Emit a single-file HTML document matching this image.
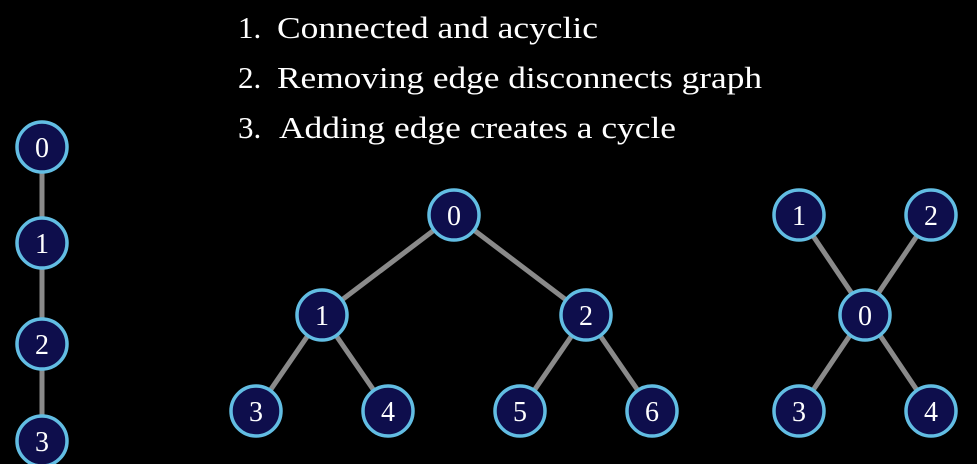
<!DOCTYPE html>
<html><head><meta charset="utf-8"><style>
html,body{margin:0;padding:0;background:#000;}
svg{display:block;}
text{font-family:"Liberation Serif",serif;fill:#fff;}
</style></head><body>
<svg width="977" height="464" viewBox="0 0 977 464" xmlns="http://www.w3.org/2000/svg">
<rect width="977" height="464" fill="#000"/>
<g font-size="31">
<text x="238" y="38">1.</text>
<text x="277" y="38" textLength="321" lengthAdjust="spacingAndGlyphs">Connected and acyclic</text>
<text x="238" y="88">2.</text>
<text x="277" y="88" textLength="485" lengthAdjust="spacingAndGlyphs">Removing edge disconnects graph</text>
<text x="238" y="138">3.</text>
<text x="279" y="138" textLength="397" lengthAdjust="spacingAndGlyphs">Adding edge creates a cycle</text>
</g>
<g stroke="#8a8a8a" stroke-width="5">
<line x1="42" y1="147" x2="42" y2="441"/>
<line x1="454" y1="215" x2="322" y2="315"/>
<line x1="454" y1="215" x2="586" y2="315"/>
<line x1="322" y1="315" x2="256" y2="411"/>
<line x1="322" y1="315" x2="388" y2="411"/>
<line x1="586" y1="315" x2="520" y2="411"/>
<line x1="586" y1="315" x2="652" y2="411"/>
<line x1="799" y1="215" x2="931" y2="411"/>
<line x1="931" y1="215" x2="799" y2="411"/>
</g>
<g fill="#0e0e4c" stroke="#62bde3" stroke-width="3.5">
<circle cx="42" cy="147" r="25"/><circle cx="42" cy="243" r="25"/><circle cx="42" cy="344" r="25"/><circle cx="42" cy="441" r="25"/>
<circle cx="454" cy="215" r="25"/><circle cx="322" cy="315" r="25"/><circle cx="586" cy="315" r="25"/>
<circle cx="256" cy="411" r="25"/><circle cx="388" cy="411" r="25"/><circle cx="520" cy="411" r="25"/><circle cx="652" cy="411" r="25"/>
<circle cx="799" cy="215" r="25"/><circle cx="931" cy="215" r="25"/><circle cx="865" cy="315" r="25"/><circle cx="799" cy="411" r="25"/><circle cx="931" cy="411" r="25"/>
</g>
<g font-size="28" text-anchor="middle">
<text x="42" y="157">0</text><text x="42" y="253">1</text><text x="42" y="354">2</text><text x="42" y="451">3</text>
<text x="454" y="225">0</text><text x="322" y="325">1</text><text x="586" y="325">2</text>
<text x="256" y="421">3</text><text x="388" y="421">4</text><text x="520" y="421">5</text><text x="652" y="421">6</text>
<text x="799" y="225">1</text><text x="931" y="225">2</text><text x="865" y="325">0</text><text x="799" y="421">3</text><text x="931" y="421">4</text>
</g>
</svg>
</body></html>
